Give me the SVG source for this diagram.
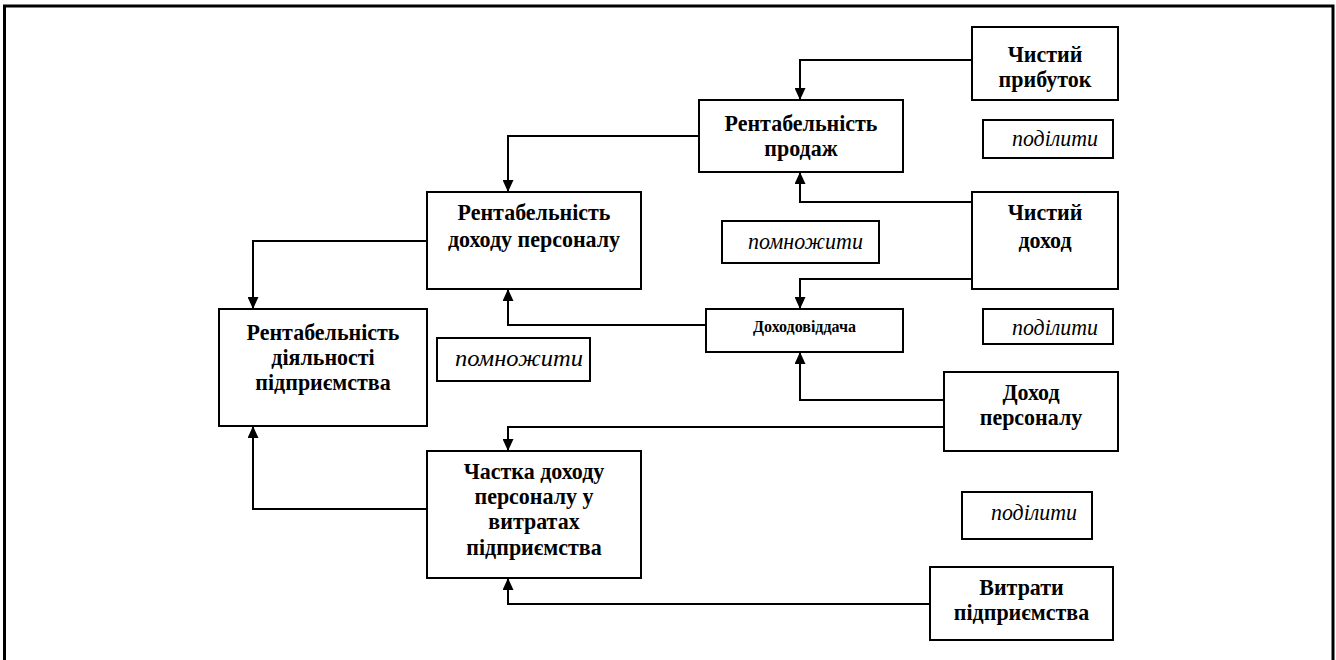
<svg xmlns="http://www.w3.org/2000/svg" width="1336" height="660" viewBox="0 0 1336 660">
<defs>
<style>
.box{fill:#fff;stroke:#000;stroke-width:2}
.t{font-family:"Liberation Serif","Times New Roman",serif;font-weight:bold;font-size:22px;text-anchor:middle;fill:#000}
.ts{font-family:"Liberation Serif","Times New Roman",serif;font-weight:bold;font-size:16px;text-anchor:middle;fill:#000}
.it{font-family:"Liberation Serif","Times New Roman",serif;font-style:italic;font-size:21px;fill:#000}
.c{fill:none;stroke:#000;stroke-width:2}
</style>
<marker id="ah" markerUnits="userSpaceOnUse" markerWidth="12" markerHeight="11" refX="12" refY="5.5" orient="auto" viewBox="0 0 12 11">
<path d="M0,0 L12,5.5 L0,11 z" fill="#000"/>
</marker>
</defs>
<rect width="1336" height="660" fill="#fff"/>
<path d="M4.5,660 V6 H1333 V660" fill="none" stroke="#000" stroke-width="3"/>

<g id="connectors">
<path class="c" d="M972,60 H800 V100" marker-end="url(#ah)"/>
<path class="c" d="M972,202 H800 V172" marker-end="url(#ah)"/>
<path class="c" d="M972,279 H800 V309" marker-end="url(#ah)"/>
<path class="c" d="M944,400 H800 V352" marker-end="url(#ah)"/>
<path class="c" d="M944,427 H508 V451" marker-end="url(#ah)"/>
<path class="c" d="M930,604 H508 V578" marker-end="url(#ah)"/>
<path class="c" d="M699,136 H508 V192" marker-end="url(#ah)"/>
<path class="c" d="M706,325 H508 V289" marker-end="url(#ah)"/>
<path class="c" d="M427,241 H253 V309" marker-end="url(#ah)"/>
<path class="c" d="M427,509 H253 V426" marker-end="url(#ah)"/>
</g>

<g id="chystyi-prybutok">
<rect class="box" x="972" y="27" width="146" height="73"/>
<text class="t" transform="translate(1045 62) scale(1 1.08)">Чистий</text>
<text class="t" transform="translate(1045 87) scale(1 1.08)">прибуток</text>
</g>
<g id="rent-prodazh">
<rect class="box" x="699" y="100" width="204" height="72"/>
<text class="t" transform="translate(801 131) scale(1 1.08)">Рентабельність</text>
<text class="t" transform="translate(801 156) scale(1 1.08)">продаж</text>
</g>
<g id="podilyty-1">
<rect class="box" x="983" y="120" width="130" height="38"/>
<text class="it" transform="translate(1012 146) scale(1 1.08)" textLength="86" lengthAdjust="spacingAndGlyphs">поділити</text>
</g>
<g id="rent-dokhodu-personalu">
<rect class="box" x="427" y="192" width="214" height="97"/>
<text class="t" transform="translate(534 220) scale(1 1.08)">Рентабельність</text>
<text class="t" transform="translate(534 247) scale(1 1.08)">доходу персоналу</text>
</g>
<g id="pomnozhyty-1">
<rect class="box" x="722" y="221" width="157" height="42"/>
<text class="it" transform="translate(748 249) scale(1 1.08)" textLength="115" lengthAdjust="spacingAndGlyphs">помножити</text>
</g>
<g id="chystyi-dokhid">
<rect class="box" x="972" y="192" width="146" height="97"/>
<text class="t" transform="translate(1045 220) scale(1 1.08)">Чистий</text>
<text class="t" transform="translate(1045 248) scale(1 1.08)">доход</text>
</g>
<g id="dokhodovidacha">
<rect class="box" x="706" y="309" width="197" height="43"/>
<text class="ts" transform="translate(804.5 332) scale(1 1.08)">Доходовіддача</text>
</g>
<g id="podilyty-2">
<rect class="box" x="983" y="309" width="130" height="35"/>
<text class="it" transform="translate(1012 335) scale(1 1.08)" textLength="86" lengthAdjust="spacingAndGlyphs">поділити</text>
</g>
<g id="rent-diyalnosti">
<rect class="box" x="219" y="309" width="208" height="117"/>
<text class="t" transform="translate(323 340) scale(1 1.08)">Рентабельність</text>
<text class="t" transform="translate(323 365) scale(1 1.08)">діяльності</text>
<text class="t" transform="translate(323 390) scale(1 1.08)">підприємства</text>
</g>
<g id="pomnozhyty-2">
<rect class="box" x="437" y="338" width="153" height="43"/>
<text class="it" transform="translate(455 366) scale(1 1.08)" textLength="128" lengthAdjust="spacingAndGlyphs">помножити</text>
</g>
<g id="dokhid-personalu">
<rect class="box" x="944" y="372" width="174" height="79"/>
<text class="t" transform="translate(1031 400) scale(1 1.08)">Доход</text>
<text class="t" transform="translate(1031 425) scale(1 1.08)">персоналу</text>
</g>
<g id="podilyty-3">
<rect class="box" x="962" y="492" width="130" height="47"/>
<text class="it" transform="translate(991 520) scale(1 1.08)" textLength="86" lengthAdjust="spacingAndGlyphs">поділити</text>
</g>
<g id="chastka">
<rect class="box" x="427" y="451" width="214" height="127"/>
<text class="t" transform="translate(534 479) scale(1 1.08)">Частка доходу</text>
<text class="t" transform="translate(534 504) scale(1 1.08)">персоналу у</text>
<text class="t" transform="translate(534 529) scale(1 1.08)">витратах</text>
<text class="t" transform="translate(534 555) scale(1 1.08)">підприємства</text>
</g>
<g id="vytraty">
<rect class="box" x="930" y="567" width="183" height="73"/>
<text class="t" transform="translate(1021.5 595) scale(1 1.08)">Витрати</text>
<text class="t" transform="translate(1021.5 620) scale(1 1.08)">підприємства</text>
</g>
</svg>
